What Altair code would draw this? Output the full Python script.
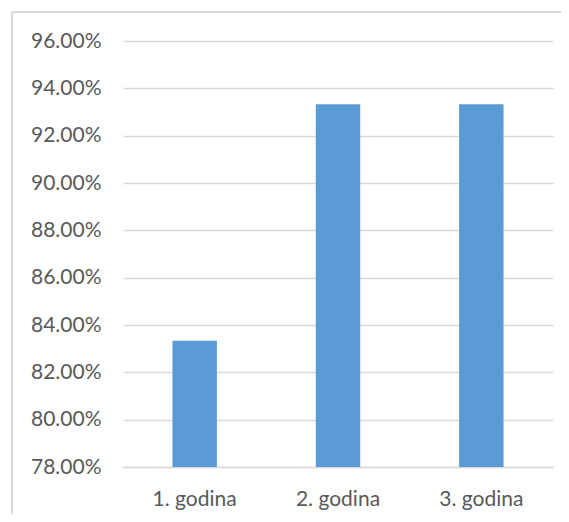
import altair as alt
import pandas as pd

categories = ["1. godina", "2. godina", "3. godina"]
values = [0.8333, 0.9333, 0.9333]
y_ticks = [0.78, 0.80, 0.82, 0.84, 0.86, 0.88, 0.90, 0.92, 0.94, 0.96]

df = pd.DataFrame({"cat": categories, "val": values})

FONT = "Lato"
TXT = "#595959"
GRID = "#d9d9d9"

bars = alt.Chart(df).mark_bar(color="#5B9BD5").encode(
    x=alt.X("cat:N", sort=categories, title=None,
            scale=alt.Scale(paddingInner=0.69, paddingOuter=0.345),
            axis=alt.Axis(labelAngle=0, labelFont=FONT, labelFontSize=21,
                          labelColor=TXT, ticks=False, domainColor=GRID,
                          domainWidth=1.3, labelPadding=21)),
    y=alt.Y("val:Q", title=None,
            scale=alt.Scale(domain=[0.78, 0.96], zero=False, nice=False),
            axis=alt.Axis(values=y_ticks, format=".2%", labelFont=FONT,
                          labelFontSize=21, labelColor=TXT, ticks=False,
                          domain=False, gridColor=GRID, gridWidth=1.3,
                          labelPadding=22)),
    y2=alt.datum(0.78),
)

border = alt.Chart(df).mark_rule(color=GRID, strokeWidth=1.5, clip=False).encode(
    x=alt.value(-111), y=alt.value(-29), y2=alt.value(560)
)
border_top = alt.Chart(df).mark_rule(color=GRID, strokeWidth=1.5, clip=False).encode(
    x=alt.value(-111), x2=alt.value(600), y=alt.value(-29)
)

chart = alt.layer(border, border_top, bars).properties(
    width=430, height=426,
    autosize=alt.AutoSizeParams(type="none"),
    padding={"left": 115, "top": 33, "right": 8, "bottom": 47},
    background="white",
).configure_view(stroke=None)

chart.save("out.html", embed_options={"renderer": "svg", "actions": False})
